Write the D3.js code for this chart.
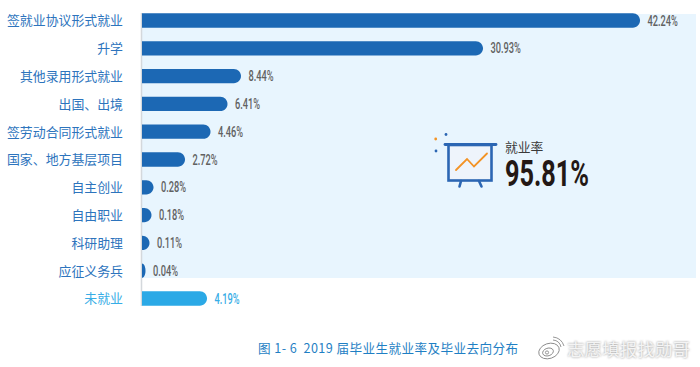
<!DOCTYPE html>
<html>
<head>
<meta charset="utf-8">
<script src="https://cdn.jsdelivr.net/npm/d3@7"></script>
<style>
  html, body { margin: 0; padding: 0; background: #fff; }
  svg { display: block; }
  text { font-family: "Noto Sans CJK SC", sans-serif; }
  .num { font-family: Roboto, sans-serif; }
</style>
</head>
<body>
<svg id="chart" width="700" height="367"></svg>
<script>
const categories = ['签就业协议形式就业', '升学', '其他录用形式就业', '出国、出境', '签劳动合同形式就业',
    '国家、地方基层项目', '自主创业', '自由职业', '科研助理', '应征义务兵', '未就业'];
const values = [42.24, 30.93, 8.44, 6.41, 4.46, 2.72, 0.28, 0.18, 0.11, 0.04, 4.19];
const valueLabels = ['42.24%', '30.93%', '8.44%', '6.41%', '4.46%', '2.72%', '0.28%', '0.18%', '0.11%', '0.04%', '4.19%'];
const unemployed = '未就业';
const rateLabel = '就业率';
const rateValue = '95.81%';
const caption = '图 1- 6  2019 届毕业生就业率及毕业去向分布';
const watermark = '志愿填报找勋哥';

const svg = d3.select('#chart');

// The bars in the source are not drawn to a single linear scale, so the scale is piecewise
const x = d3.scaleLinear()
    .domain([0, 0.04, 0.11, 0.18, 0.28, 2.72, 4.19, 4.46, 6.41, 8.44, 30.93, 42.24])
    .range([142, 145.5, 149.5, 151.5, 153.5, 185, 207, 210.5, 227.5, 241, 483, 640]);

const y = d3.scaleBand()
    .domain(categories)
    .range([6.6, 312.4])
    .paddingInner(0.485)
    .paddingOuter(0.243);

const barHeight = y.bandwidth();
const dark = '#1c68b4';
const light = '#2ba9e6';

// No condensed font is installed, so squeeze the numbers to their measured width
function condense(selection, ratio) {
    selection.each(function() {
        d3.select(this)
            .attr('textLength', this.getComputedTextLength() * ratio)
            .attr('lengthAdjust', 'spacingAndGlyphs');
    });
}

// Panel behind the employed rows
svg.append('rect')
    .attr('x', 142).attr('y', 14)
    .attr('width', 554).attr('height', 264)
    .attr('fill', '#e8f5fe');

// Baseline
svg.append('line')
    .attr('x1', 141.5).attr('x2', 141.5)
    .attr('y1', 13).attr('y2', 306)
    .attr('stroke', '#d4d8dc').attr('stroke-width', 1.5);

// Bar with a square left end and a round right end
function barPath(d) {
    const x0 = x(0), x1 = x(d.value), top = y(d.name), h = barHeight;
    const r = Math.min(h / 2, x1 - x0);
    const path = d3.path();
    path.moveTo(x0, top);
    path.lineTo(x1 - r, top);
    path.bezierCurveTo(x1 - r * 0.45, top, x1, top + h / 2 - (h / 2) * 0.55, x1, top + h / 2);
    path.bezierCurveTo(x1, top + h / 2 + (h / 2) * 0.55, x1 - r * 0.45, top + h, x1 - r, top + h);
    path.lineTo(x0, top + h);
    path.closePath();
    return path.toString();
}

const rows = categories.map((name, i) => ({ name, value: values[i], label: valueLabels[i] }));

svg.selectAll('.bar')
    .data(rows)
    .join('path')
    .attr('class', 'bar')
    .attr('d', barPath)
    .attr('fill', d => d.name === unemployed ? light : dark);

svg.selectAll('.cat')
    .data(rows)
    .join('text')
    .attr('class', 'cat')
    .attr('x', 123)
    .attr('y', d => y(d.name) + barHeight / 2)
    .attr('dy', '0.38em')
    .attr('text-anchor', 'end')
    .attr('font-size', '12.9px')
    .attr('fill', d => d.name === unemployed ? '#37ade6' : '#2d74bd')
    .text(d => d.name);

svg.selectAll('.val')
    .data(rows)
    .join('text')
    .attr('class', 'val num')
    .attr('x', d => x(d.value) + 7.5)
    .attr('y', d => y(d.name) + barHeight / 2)
    .attr('dy', '0.36em')
    .attr('font-size', '14px')
    .attr('font-weight', '500')
    .attr('fill', d => d.name === unemployed ? '#37ade6' : '#616161')
    .text(d => d.label)
    .call(condense, 0.66);

// Presentation board icon
const icon = svg.append('g').attr('fill', 'none').attr('stroke-linecap', 'round');
icon.append('rect')
    .attr('x', 448.5).attr('y', 145)
    .attr('width', 43).attr('height', 35.5)
    .attr('fill', '#eef4fb').attr('stroke', '#2b66b3').attr('stroke-width', 2.6);
icon.append('line')
    .attr('x1', 445).attr('x2', 496).attr('y1', 144.5).attr('y2', 144.5)
    .attr('stroke', '#2b66b3').attr('stroke-width', 2.8);
icon.selectAll('.leg')
    .data([[461, 181, 459.5, 186.5], [479, 181, 481.5, 186.5]])
    .join('line')
    .attr('x1', d => d[0]).attr('y1', d => d[1])
    .attr('x2', d => d[2]).attr('y2', d => d[3])
    .attr('stroke', '#2b66b3').attr('stroke-width', 2.6);
icon.append('polyline')
    .attr('points', '456,170 467,159 474,166.5 487,153.5')
    .attr('stroke', '#f39325').attr('stroke-width', 1.8);
icon.selectAll('.dot')
    .data([[435.7, 139, '#f39325'], [446, 134.5, '#2b66b3'], [436, 151, '#2b66b3']])
    .join('circle')
    .attr('cx', d => d[0]).attr('cy', d => d[1]).attr('r', 1.4)
    .attr('fill', d => d[2]).attr('stroke', 'none');

svg.append('text')
    .attr('x', 505).attr('y', 152)
    .attr('font-size', '12.8px')
    .attr('fill', '#3a3a3a')
    .text(rateLabel);

svg.append('text')
    .attr('class', 'num')
    .attr('x', 505).attr('y', 186)
    .attr('font-size', '36.5px')
    .attr('font-weight', '700')
    .attr('fill', '#231815')
    .attr('textLength', 84)
    .attr('lengthAdjust', 'spacingAndGlyphs')
    .text(rateValue);

svg.append('text')
    .attr('x', 258).attr('y', 352.5)
    .attr('font-size', '12.6px')
    .attr('fill', '#1f7fc4')
    .attr('textLength', 260)
    .attr('lengthAdjust', 'spacing')
    .style('white-space', 'pre')
    .text(caption);

// Weibo watermark
const defs = svg.append('defs');
defs.append('filter').attr('id', 'soft')
    .attr('x', '-10%').attr('y', '-30%').attr('width', '120%').attr('height', '160%')
    .append('feGaussianBlur').attr('stdDeviation', 1.3);

const logo = svg.append('g').attr('fill', 'none').attr('stroke', '#8a8a8a').attr('stroke-width', 0.9);
logo.append('ellipse').attr('cx', 549).attr('cy', 351).attr('rx', 10.5).attr('ry', 7.5).attr('transform', 'rotate(-18 549 351)');
logo.append('ellipse').attr('cx', 548).attr('cy', 352).attr('rx', 5.5).attr('ry', 3.8).attr('transform', 'rotate(-18 548 352)');
logo.append('circle').attr('cx', 547).attr('cy', 352.5).attr('r', 1.6);
logo.append('path').attr('d', 'M553,340 A9,9 0 0 1 561,347');
logo.append('path').attr('d', 'M553,337 A13,13 0 0 1 564,346');

svg.append('text')
    .attr('x', 567).attr('y', 356)
    .attr('font-size', '17.6px')
    .attr('fill', '#8f8f8f')
    .attr('filter', 'url(#soft)')
    .text(watermark);
svg.append('text')
    .attr('x', 567).attr('y', 356)
    .attr('font-size', '17.6px')
    .attr('fill', '#f4f4f4')
    .text(watermark);
</script>
</body>
</html>
